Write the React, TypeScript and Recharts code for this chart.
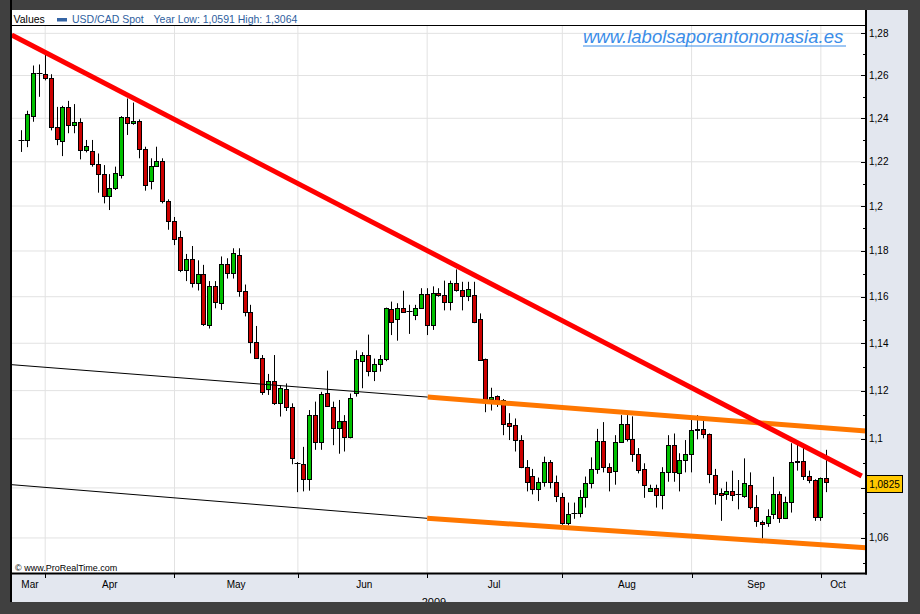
import { ComposedChart, Bar, XAxis, YAxis, CartesianGrid, ReferenceLine } from "recharts"

// ─── Data ────────────────────────────────────────────────────────────────────

const OPEN = [
    1.23, 1.23, 1.2411, 1.2613, 1.2605, 1.259, 1.2361, 1.2294, 1.2451, 1.2369,
    1.2381, 1.2254, 1.225, 1.2192, 1.2144, 1.2045, 1.208, 1.2141, 1.2407, 1.2377,
    1.2389, 1.2258, 1.2112, 1.2182, 1.2205, 1.2022, 1.1934, 1.1862, 1.1716, 1.1763,
    1.1661, 1.17, 1.1477, 1.1648, 1.1573, 1.1742, 1.1705, 1.1783, 1.1626, 1.1535,
    1.1404, 1.1338, 1.1205, 1.1242, 1.1147, 1.1205, 1.113, 1.0902, 1.0896, 1.0836,
    1.1098, 1.0987, 1.1192, 1.1132, 1.1043, 1.1074, 1.1007, 1.1188, 1.1324, 1.1352,
    1.1283, 1.1312, 1.1335, 1.1546, 1.1502, 1.155, 1.154, 1.1521, 1.1551, 1.1611,
    1.1477, 1.1615, 1.1609, 1.1577, 1.1661, 1.1631, 1.1605, 1.1609, 1.1502, 1.1332,
    1.1163, 1.1178, 1.1161, 1.1064, 1.1055, 1.0994, 1.0885, 1.085, 1.0794, 1.0824,
    1.0906, 1.0825, 1.0764, 1.066, 1.0698, 1.0698, 1.0764, 1.0819, 1.0877, 1.0993,
    1.0886, 1.0868, 1.0989, 1.1062, 1.0999, 1.0939, 1.0877, 1.0787, 1.0798, 1.077,
    1.0866, 1.0975, 1.0861, 1.0913, 1.0939, 1.1035, 1.1041, 1.102, 1.0854, 1.0778,
    1.0775, 1.0787, 1.0775, 1.0768, 1.0813, 1.0725, 1.0665, 1.0659, 1.0697, 1.0774,
    1.0678, 1.0745, 1.0909, 1.0909, 1.085, 1.0832, 1.0682, 1.0839,
]

const HIGH = [
    1.2345, 1.2435, 1.2647, 1.2652, 1.2697, 1.2606, 1.2453, 1.2458, 1.2481, 1.2466,
    1.24, 1.23, 1.23, 1.2238, 1.2185, 1.2144, 1.2178, 1.241, 1.2492, 1.2473,
    1.2395, 1.2269, 1.2216, 1.2269, 1.2216, 1.203, 1.1951, 1.1889, 1.1787, 1.1822,
    1.1759, 1.1739, 1.1668, 1.1668, 1.1776, 1.1768, 1.1812, 1.1812, 1.1653, 1.1565,
    1.1474, 1.135, 1.127, 1.135, 1.1223, 1.123, 1.1147, 1.0905, 1.0967, 1.1119,
    1.1154, 1.1195, 1.1284, 1.1154, 1.1161, 1.1098, 1.1188, 1.137, 1.1362, 1.1437,
    1.1335, 1.135, 1.1553, 1.1579, 1.1572, 1.1626, 1.1565, 1.1565, 1.1637, 1.1637,
    1.1645, 1.1637, 1.167, 1.167, 1.1719, 1.1665, 1.1665, 1.1665, 1.1528, 1.1335,
    1.1212, 1.118, 1.1165, 1.1106, 1.1084, 1.1015, 1.0913, 1.0877, 1.0842, 1.0927,
    1.0913, 1.085, 1.078, 1.0741, 1.0741, 1.0792, 1.0846, 1.0924, 1.1041, 1.1069,
    1.09, 1.1015, 1.1098, 1.1098, 1.1093, 1.0962, 1.09, 1.0813, 1.0813, 1.0884,
    1.1015, 1.1022, 1.0941, 1.0995, 1.1091, 1.1098, 1.1078, 1.1022, 1.0877, 1.0798,
    1.0825, 1.087, 1.0832, 1.092, 1.0863, 1.0771, 1.0669, 1.0714, 1.0845, 1.0786,
    1.0765, 1.0982, 1.0982, 1.0968, 1.087, 1.0835, 1.0842, 1.0955,
]

const LOW = [
    1.2245, 1.2267, 1.2384, 1.25, 1.2577, 1.2344, 1.2276, 1.2226, 1.2331, 1.2331,
    1.2211, 1.2243, 1.2178, 1.206, 1.2012, 1.1982, 1.2072, 1.2124, 1.2323, 1.237,
    1.2216, 1.2069, 1.2075, 1.2178, 1.2012, 1.1894, 1.1826, 1.1707, 1.1668, 1.164,
    1.1627, 1.1474, 1.1463, 1.155, 1.1543, 1.1679, 1.1679, 1.16, 1.1515, 1.1357,
    1.1335, 1.1182, 1.1182, 1.114, 1.1092, 1.1115, 1.0896, 1.0783, 1.0786, 1.0789,
    1.0955, 1.0955, 1.1132, 1.0974, 1.0939, 1.0948, 1.1002, 1.1175, 1.121, 1.126,
    1.124, 1.128, 1.1324, 1.1435, 1.1411, 1.1532, 1.144, 1.1499, 1.1548, 1.1435,
    1.1457, 1.16, 1.1541, 1.1541, 1.1622, 1.1541, 1.1581, 1.1486, 1.1326, 1.111,
    1.1117, 1.1132, 1.1015, 1.0995, 1.0948, 1.088, 1.0786, 1.0774, 1.0747, 1.0805,
    1.0798, 1.0743, 1.0652, 1.065, 1.0676, 1.0682, 1.0721, 1.0798, 1.0857, 1.0863,
    1.0786, 1.0813, 1.0986, 1.0989, 1.0906, 1.0859, 1.076, 1.0786, 1.0721, 1.0714,
    1.0825, 1.0825, 1.0786, 1.0863, 1.0863, 1.0998, 1.1002, 1.0819, 1.0733, 1.0668,
    1.0752, 1.0747, 1.0714, 1.076, 1.0714, 1.0644, 1.0598, 1.0644, 1.0675, 1.066,
    1.0675, 1.0701, 1.087, 1.0832, 1.0819, 1.0668, 1.0668, 1.0783,
]

const CLOSE = [
    1.23, 1.2419, 1.2613, 1.2611, 1.259, 1.2358, 1.2303, 1.2451, 1.2369, 1.2381,
    1.2254, 1.2274, 1.219, 1.2144, 1.2045, 1.208, 1.2147, 1.2405, 1.2377, 1.2389,
    1.2258, 1.2094, 1.2182, 1.2204, 1.2022, 1.1933, 1.1852, 1.1716, 1.1763, 1.1661,
    1.17, 1.1482, 1.1645, 1.1577, 1.1742, 1.1705, 1.179, 1.1626, 1.1535, 1.1404,
    1.1338, 1.1196, 1.1242, 1.1147, 1.1209, 1.113, 1.092, 1.09, 1.0836, 1.1098,
    1.0987, 1.1185, 1.1136, 1.1043, 1.1074, 1.1007, 1.1171, 1.1332, 1.1352, 1.1283,
    1.1312, 1.1335, 1.155, 1.1492, 1.155, 1.1535, 1.154, 1.155, 1.1611, 1.1477,
    1.1615, 1.1607, 1.1577, 1.1661, 1.1631, 1.1605, 1.1634, 1.149, 1.1329, 1.1163,
    1.1175, 1.1161, 1.1062, 1.1053, 1.0994, 1.0884, 1.0825, 1.0794, 1.0824, 1.0906,
    1.0825, 1.0766, 1.066, 1.0697, 1.0698, 1.0764, 1.0819, 1.0877, 1.0993, 1.0886,
    1.0866, 1.0989, 1.1062, 1.0999, 1.0939, 1.0873, 1.0811, 1.0798, 1.077, 1.0866,
    1.0975, 1.0863, 1.0913, 1.0939, 1.1035, 1.1041, 1.102, 1.0857, 1.0775, 1.077,
    1.0787, 1.077, 1.0775, 1.0819, 1.0725, 1.0668, 1.0655, 1.0688, 1.0774, 1.0678,
    1.0745, 1.0904, 1.0904, 1.085, 1.0832, 1.0682, 1.0839, 1.0825,
]

// first trading day of each month (candle index) and month label positions
const MONTH_STARTS = [4, 26, 47, 69, 92, 114, 136]
const MONTH_LABELS = ["Mar", "Apr", "May", "Jun", "Jul", "Aug", "Sep", "Oct"]
const MONTH_CENTERS = [1.4, 15, 36.5, 58.3, 80.4, 103, 125, 138.9]

const PRICE_TICKS = [
    1.05, 1.06, 1.07, 1.08, 1.09, 1.1, 1.11, 1.12, 1.13, 1.14, 1.15, 1.16,
    1.17, 1.18, 1.19, 1.2, 1.21, 1.22, 1.23, 1.24, 1.25, 1.26, 1.27, 1.28,
]
const PRICE_GRID = [1.06, 1.08, 1.1, 1.12, 1.14, 1.16, 1.18, 1.2, 1.22, 1.24, 1.26, 1.28]
const LAST_CLOSE = 1.0825

// hand-drawn trend lines, in (candle index, price)
const RED_TREND = [{ x: -1.7, y: 1.2792 }, { x: 142.95, y: 1.0848 }]
const CHANNEL_TOP = [{ x: 69.1, y: 1.1173 }, { x: 143.68, y: 1.1032 }]
const CHANNEL_BOTTOM = [{ x: 69, y: 1.0678 }, { x: 143.68, y: 1.0561 }]
const OLD_TOP = [{ x: -1.65, y: 1.1309 }, { x: 69.1, y: 1.1173 }]
const OLD_BOTTOM = [{ x: -1.65, y: 1.0813 }, { x: 69, y: 1.0678 }]

const DATA = OPEN.map((o, i) => ({
    i,
    open: o,
    high: HIGH[i],
    low: LOW[i],
    close: CLOSE[i],
    range: [LOW[i], HIGH[i]],
}))

// ─── Styling ─────────────────────────────────────────────────────────────────

const FONT = '"Liberation Sans", Arial, sans-serif'
const GREEN = "#00c000"
const RED = "#cc0000"
const GRID = "#e2e2e2"

const fmtPrice = (v: number) => String(+v.toFixed(4)).replace(".", ",")

// ─── Pieces ──────────────────────────────────────────────────────────────────

function Candle(props: any) {
    const { x, y, width, height, payload } = props
    const top = Math.min(y, y + height)
    const h = Math.abs(height)
    const { open, close, high, low } = payload
    const lh = Math.log(high)
    const span = lh - Math.log(low) || 1
    const py = (v: number) => top + (h * (lh - Math.log(v))) / span
    const cx = Math.round(x + width / 2) + 0.5
    const bTop = Math.round(py(Math.max(open, close))) + 0.5
    const bBot = Math.round(py(Math.min(open, close))) + 0.5
    return (
        <g>
            <line x1={cx} x2={cx} y1={top} y2={top + h} stroke="#000" strokeWidth={1} />
            {bBot - bTop < 1 ? (
                <line x1={cx - 3} x2={cx + 3} y1={bTop} y2={bTop} stroke="#000" strokeWidth={1} />
            ) : (
                <rect
                    x={cx - 2}
                    y={bTop}
                    width={4}
                    height={bBot - bTop}
                    fill={close > open ? GREEN : RED}
                    stroke="#000"
                    strokeWidth={1}
                />
            )}
        </g>
    )
}

function PriceTick(props: any) {
    const { x, y, payload } = props
    const v = payload.value
    const cents = Math.round(v * 100)
    const major = cents % 2 === 0
    const yy = Math.round(y) + 0.5
    return (
        <g>
            <line x1={x - (major ? 5 : 3)} x2={x} y1={yy} y2={yy} stroke="#000" />
            {major && cents !== 108 && (
                <text x={x + 3} y={y + 3.5} fontSize={10} fontFamily={FONT} fill="#000">
                    {fmtPrice(v)}
                </text>
            )}
        </g>
    )
}

function MonthTick(props: any) {
    const { x, y, payload } = props
    if (MONTH_STARTS.includes(payload.value)) {
        const xx = Math.round(x) + 0.5
        return <line x1={xx} x2={xx} y1={y} y2={y + 5} stroke="#000" />
    }
    const k = MONTH_CENTERS.indexOf(payload.value)
    return (
        <text x={x} y={y + 15} textAnchor="middle" fontSize={10} fontFamily={FONT} fill="#000">
            {MONTH_LABELS[k]}
        </text>
    )
}

function LastPrice(props: any) {
    const { x, y, width } = props.viewBox
    const left = Math.round(x + width) + 0.5
    const top = Math.round(y) - 6.5
    return (
        <g>
            <rect x={left} y={top} width={36} height={17} fill="#ffc800" stroke="#000" />
            <text x={left + 18} y={top + 12.5} textAnchor="middle" fontSize={10} fontFamily={FONT} fill="#000">
                {fmtPrice(LAST_CLOSE)}
            </text>
        </g>
    )
}

// ─── Chart ───────────────────────────────────────────────────────────────────

export default function App() {
    const ticksX = [...MONTH_STARTS, ...MONTH_CENTERS].sort((a, b) => a - b)
    return (
        <div
            style={{
                position: "fixed",
                left: 0,
                top: 0,
                width: 920,
                height: 614,
                background: "#404040",
                overflow: "hidden",
                fontFamily: FONT,
            }}
        >
            <div style={{ position: "absolute", left: 12, top: 10, width: 896, height: 592, background: "#e3e7ef" }} />
            <div style={{ position: "absolute", left: 12, top: 10, width: 854, height: 563, background: "#fff" }} />
            <div style={{ position: "absolute", left: 0, top: 0 }}>
                <ComposedChart width={920} height={614} data={DATA} margin={{ top: 25, right: 0, bottom: 0, left: 12 }}>
                    <CartesianGrid stroke={GRID} horizontalValues={PRICE_GRID} verticalValues={MONTH_STARTS} />
                    <XAxis
                        dataKey="i"
                        type="number"
                        domain={[-1.65, 143.68]}
                        allowDataOverflow
                        ticks={ticksX}
                        interval={0}
                        height={41}
                        axisLine={false}
                        tickLine={false}
                        tickSize={0}
                        tickMargin={0}
                        tick={<MonthTick />}
                    />
                    <YAxis
                        orientation="right"
                        scale="log"
                        domain={[1.0462, 1.284]}
                        allowDataOverflow
                        ticks={PRICE_TICKS}
                        interval={0}
                        width={54}
                        axisLine={false}
                        tickLine={false}
                        tickSize={0}
                        tickMargin={0}
                        tick={<PriceTick />}
                    />
                    <Bar dataKey="range" barSize={5} shape={(p: any) => <Candle {...p} />} isAnimationActive={false} />
                    <ReferenceLine segment={OLD_TOP} stroke="#000" strokeWidth={1} ifOverflow="visible" />
                    <ReferenceLine segment={OLD_BOTTOM} stroke="#000" strokeWidth={1} ifOverflow="visible" />
                    <ReferenceLine segment={CHANNEL_TOP} stroke="#ff7700" strokeWidth={5} ifOverflow="visible" />
                    <ReferenceLine segment={CHANNEL_BOTTOM} stroke="#ff7700" strokeWidth={5} ifOverflow="visible" />
                    <ReferenceLine segment={RED_TREND} stroke="#ff0000" strokeWidth={5} ifOverflow="visible" />
                    <ReferenceLine
                        y={LAST_CLOSE}
                        stroke="none"
                        ifOverflow="visible"
                        label={(p: any) => <LastPrice {...p} />}
                    />
                </ComposedChart>
            </div>
            <svg width={920} height={614} style={{ position: "absolute", left: 0, top: 0, pointerEvents: "none" }}>
                <line x1={11} x2={11} y1={0} y2={614} stroke="#000" strokeWidth={2} />
                <line x1={11} x2={866} y1={25.5} y2={25.5} stroke="#000" strokeWidth={1} />
                <line x1={866} x2={866} y1={10} y2={574.5} stroke="#000" strokeWidth={2} />
                <line x1={10} x2={867} y1={573.5} y2={573.5} stroke="#000" strokeWidth={2} />

                <text x={13.5} y={22.5} fontSize={10.5} fontFamily={FONT} fill="#000">Values</text>
                <rect x={57} y={18} width={10} height={3.5} fill="#3565a5" />
                <text x={72} y={22.5} fontSize={10.5} fontFamily={FONT} fill="#2e5e9e">USD/CAD Spot</text>
                <text x={153.5} y={22.5} fontSize={10.5} fontFamily={FONT} fill="#2e5e9e">
                    Year Low: 1,0591 High: 1,3064
                </text>

                <text x={583} y={43} fontSize={18.5} fontStyle="italic" fontFamily={FONT} fill="#3b8de8">
                    www.labolsaporantonomasia.es
                </text>
                <line x1={583} x2={846} y1={46} y2={46} stroke="#3b8de8" strokeWidth={1} />

                <text x={15} y={571} fontSize={9} fontFamily={FONT} fill="#000">© www.ProRealTime.com</text>

                <text x={434} y={606} textAnchor="middle" fontSize={11} fontFamily={FONT} fill="#000">2009</text>
                <rect x={0} y={602} width={920} height={12} fill="#404040" />
                <rect x={908} y={0} width={12} height={614} fill="#404040" />
            </svg>
        </div>
    )
}
